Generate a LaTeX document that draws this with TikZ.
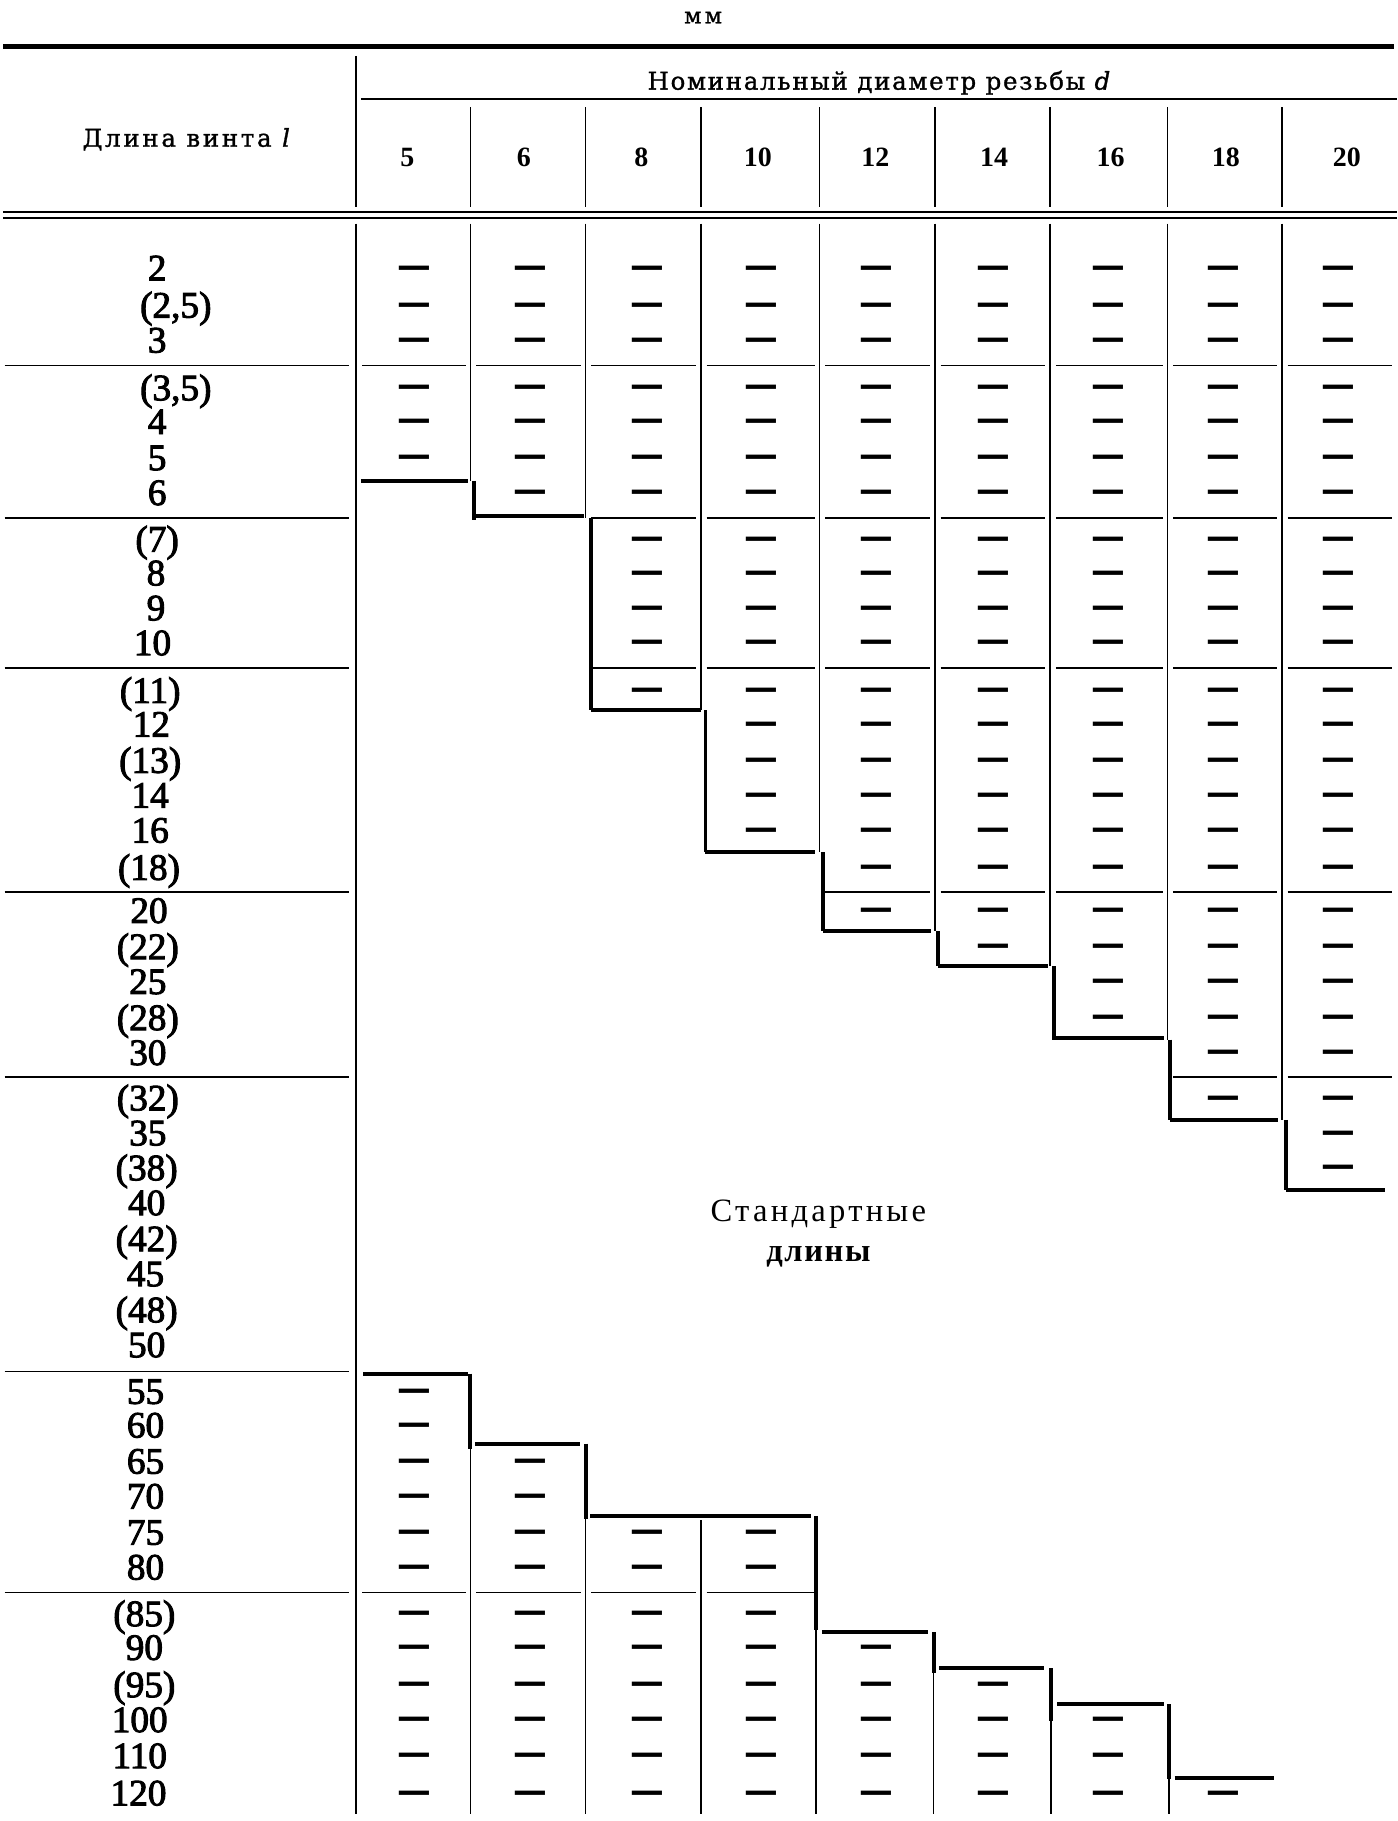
\documentclass[tikz,border=0pt]{standalone}
\usepackage{fontspec}
\setmainfont{Liberation Serif}
\newfontfamily\numfont[FakeBold=2.5]{Liberation Serif}
\newfontfamily\spacedfont[LetterSpace=7,FakeBold=1.2]{DejaVu Serif}
\newfontfamily\widefont[LetterSpace=11,FakeBold=1.2]{DejaVu Serif}
\newfontfamily\dashfont{DejaVu Sans}
\newfontfamily\stdfont[LetterSpace=10]{Liberation Serif}
\newfontfamily\stdbfont[LetterSpace=5]{Liberation Serif}
\newfontfamily\mmfont[LetterSpace=15,FakeBold=1]{DejaVu Serif}
\begin{document}
\begin{tikzpicture}[x=1pt,y=-1pt,
  thinrule/.style={line width=1.4pt},
  thickrule/.style={line width=3.4pt},
  toprule/.style={line width=3.8pt},
  lenlabel/.style={inner sep=0pt, anchor=base, font=\numfont\fontsize{32}{32}\selectfont},
  dashmark/.style={inner sep=0pt, anchor=base, font=\dashfont\bfseries\fontsize{29}{29}\selectfont},
  colnum/.style={inner sep=0pt, anchor=base, font=\bfseries\fontsize{24}{24}\selectfont},
  hdr/.style={inner sep=0pt, anchor=base, font=\spacedfont\fontsize{21}{21}\selectfont},
  hdrwide/.style={inner sep=0pt, anchor=base, font=\widefont\fontsize{21}{21}\selectfont}]
\fill[white] (0,0) rectangle (1200,1564.2);
\useasboundingbox (0,0) rectangle (1200,1564.2);
\def\rowY{{230,262,292,333,362,393,423,463,492,522,552,593,622,653,683,713,745,782,813,843,874,904,943,973,1003,1033,1064,1094,1125,1155,1195,1224,1255,1285,1316,1346,1386,1415,1447,1477,1508,1540}}
\def\colX{{356,456,556,654,753,853,952,1051,1150}}
\def\colL{{306,404,503,602,704,803,902,1003,1101,1200}}
% title and header
\node[inner sep=0pt, anchor=base, font=\mmfont\fontsize{19}{19}\selectfont] (mm) at (604,20) {мм};
\draw[toprule] (3,40) -- (1197,40);
\node[hdrwide] (lhead) at (160,126) {Длина винта {\itshape l}};
\node[hdr] (dhead) at (755,77) {Номинальный диаметр резьбы {\itshape d}};
\draw[thinrule] (306,48) -- (306,178);
\draw[thinrule] (310,85) -- (1200,85);
\foreach \xx in {404,503,602,704,803,902,1003,1101} \draw[thinrule] (\xx,92) -- (\xx,178);
\foreach \t/\xx [count=\i] in {5/350,6/450,8/551,10/651,12/752,14/854,16/954,18/1053,20/1157}
  \node[colnum] (h\i) at (\xx,143) {\t};
\draw[thinrule] (3,182) -- (1200,182);
\draw[thinrule] (3,187.5) -- (1200,187.5);
% length labels
\foreach \t/\yy/\xx [count=\i] in {2/230/135,{(2,5)}/262/151,3/292/135,{(3,5)}/333/151,4/362/135,5/393/135,6/423/135,
  (7)/463/135,8/492/134,9/522/134,10/552/131,(11)/593/129,12/622/130,(13)/653/129,14/683/129,16/713/129,(18)/745/128,
  20/782/128,(22)/813/127,25/843/127,(28)/874/127,30/904/127,(32)/943/127,35/973/127,(38)/1003/126,40/1033/126,
  (42)/1064/126,45/1094/125,(48)/1125/126,50/1155/126,55/1195/125,60/1224/125,65/1255/125,70/1285/125,75/1316/125,
  80/1346/125,(85)/1386/124,90/1415/124,(95)/1447/124,100/1477/120,110/1508/120,120/1540/119}
  \node[lenlabel] (l\i) at (\xx,\yy+10.8) {\t};
% dashes
\foreach \c/\a/\b in {0/1/6,1/1/7,2/1/12,3/1/16,4/1/18,5/1/19,6/1/21,7/1/23,8/1/25,
                      0/31/42,1/33/42,2/35/42,3/35/42,4/38/42,5/39/42,6/40/42,7/42/42}{
  \foreach \r in {\a,...,\b}{
    \pgfmathsetmacro\yy{\rowY[\r-1]}
    \pgfmathsetmacro\xx{\colX[\c]}
    \node[dashmark] (d-\c-\r) at (\xx,\yy+8) {—};
  }
}
% group lines
\foreach \yy in {314,445,574,766,925,1178,1368} \draw[thinrule] (4,\yy) -- (300,\yy);
\foreach \yy/\ca/\cb in {314/0/8,445/2/8,574/2/8,766/4/8,925/7/8,1368/0/3}{
  \foreach \c in {\ca,...,\cb}{
    \pgfmathsetmacro\xl{\colL[\c]+5}
    \pgfmathsetmacro\xr{\colL[\c+1]-4}
    \draw[thinrule] (\xl,\yy) -- (\xr,\yy);
  }
}
% body verticals
\draw[thinrule] (306,192) -- (306,1558);
\foreach \xx/\ya/\xt/\yb in {404/413/407/447,503/445/508/610,602/610/606/732,704/732/707/800,
                              803/800/806/830,902/830/905/893,1003/893/1005/962,1101/962/1105/1022}{
  \draw[thinrule] (\xx,192) -- (\xx,\ya);
  \draw[thickrule] (\xt,\ya) -- (\xt,\yb);
}
\foreach \yy/\xa/\xb in {413/310/402,443/407/502,610/508/602,732/606/700,800/707/800,830/806/900,
                         892/905/1000,962/1005/1098,1022/1105/1190}
  \draw[thickrule] (\xa,\yy) -- (\xb,\yy);
% bottom staircase
\foreach \yy/\xa/\xb in {1180/312/402,1240/408/498,1302/507/697,1402/706/797,1433/807/897,1464/908/1000,1527/1009/1094}
  \draw[thickrule] (\xa,\yy) -- (\xb,\yy);
\foreach \xx/\ya/\yb in {404/1180/1245,503/1240/1305,701/1302/1400,802/1402/1437,903/1433/1478,1004/1464/1528}{
  \draw[thickrule] (\xx,\ya) -- (\xx,\yb);
  \draw[thinrule] (\xx,\yb) -- (\xx,1558);
}
\draw[thinrule] (602,1306) -- (602,1558);
% middle text
\node[inner sep=0pt, anchor=base, font=\stdfont\fontsize{28}{28}\selectfont] (std1) at (703,1049) {Стандартные};
\node[inner sep=0pt, anchor=base, font=\stdbfont\bfseries\fontsize{28}{28}\selectfont] (std2) at (703,1084) {длины};
\end{tikzpicture}
\end{document}
